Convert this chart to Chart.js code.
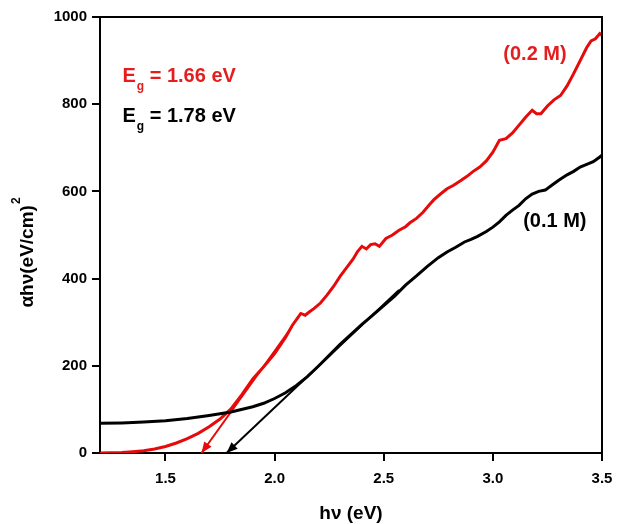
<!DOCTYPE html>
<html>
<head>
<meta charset="utf-8">
<script src="https://cdn.jsdelivr.net/npm/chart.js@4.4.1/dist/chart.umd.min.js"></script>
<style>
  html, body { margin: 0; padding: 0; background: #fff; }
  #wrap { width: 619px; height: 524px; position: relative; }
</style>
</head>
<body>
<div id="wrap"><canvas id="c"></canvas></div>
<script>
// ---- data ----
const xTicks = [1.5, 2.0, 2.5, 3.0, 3.5];
const yTicks = [0, 200, 400, 600, 800, 1000];

const redX = [1.20,1.25,1.30,1.35,1.40,1.45,1.50,1.55,1.60,1.65,1.70,1.75,1.80,1.85,1.90,1.95,2.00,2.05,2.08,2.10,2.12,2.14,2.16,2.18,2.21,2.24,2.27,2.30,2.33,2.36,2.38,2.40,2.42,2.44,2.46,2.48,2.51,2.54,2.57,2.60,2.62,2.65,2.68,2.71,2.73,2.76,2.79,2.82,2.85,2.88,2.91,2.94,2.97,3.00,3.03,3.06,3.09,3.12,3.15,3.18,3.20,3.22,3.25,3.28,3.31,3.34,3.37,3.40,3.43,3.45,3.47,3.49,3.50];
const redY = [0,0.5,1,3,5,9,15,23,33,45,60,78,101,134,170,198,228,265,292,306,320,316,324,331,344,362,382,405,425,445,462,474,468,478,480,474,492,500,511,519,528,538,552,570,581,594,606,614,624,634,646,656,670,690,717,721,734,752,770,786,778,778,796,810,820,842,870,900,930,945,950,962,958];

const blackX = [1.20,1.30,1.40,1.50,1.60,1.70,1.80,1.90,1.95,2.00,2.05,2.10,2.15,2.20,2.25,2.30,2.35,2.40,2.45,2.50,2.55,2.60,2.65,2.70,2.75,2.79,2.83,2.87,2.90,2.93,2.97,3.00,3.03,3.06,3.09,3.12,3.15,3.18,3.21,3.24,3.27,3.30,3.34,3.37,3.40,3.43,3.46,3.49,3.50];
const blackY = [68,69,71,74,79,86,94,106,114,125,138,155,175,199,224,249,272,295,316,338,360,385,406,428,448,461,472,484,490,497,508,518,530,545,557,568,583,594,600,603,614,625,638,646,656,662,668,679,683];

// tangent (extrapolation) lines: [tip, far end]
const redTanX = [1.665, 2.08];
const redTanY = [0, 290];
const blackTanX = [1.78, 2.57];
const blackTanY = [0, 374];

const redLabel = "(0.2 M)";
const blackLabel = "(0.1 M)";
const redGap = "1.66";
const blackGap = "1.78";

const RED = '#e41e1e';
const RED_LINE = '#e60a0a';
const BLACK = '#000000';
const FONT = '"Liberation Sans", Arial, sans-serif';

const pts = (xs, ys) => xs.map((x, i) => ({x: x, y: ys[i]}));

const decor = {
  id: 'decor',
  afterDatasetsDraw(chart) {
    const ctx = chart.ctx;
    const xs = chart.scales.x, ys = chart.scales.y;
    function arrow(xArr, yArr, color) {
      const x0 = xs.getPixelForValue(xArr[0]), y0 = ys.getPixelForValue(yArr[0]);
      const x1 = xs.getPixelForValue(xArr[1]), y1 = ys.getPixelForValue(yArr[1]);
      const ang = Math.atan2(y0 - y1, x0 - x1);
      const L = 11, W = 4.5;
      ctx.save();
      ctx.fillStyle = color;
      ctx.beginPath();
      ctx.moveTo(x0, y0);
      ctx.lineTo(x0 - L * Math.cos(ang) + W * Math.sin(ang), y0 - L * Math.sin(ang) - W * Math.cos(ang));
      ctx.lineTo(x0 - L * Math.cos(ang) - W * Math.sin(ang), y0 - L * Math.sin(ang) + W * Math.cos(ang));
      ctx.closePath();
      ctx.fill();
      ctx.restore();
    }
    arrow(redTanX, redTanY, RED_LINE);
    arrow(blackTanX, blackTanY, BLACK);
  },
  afterDraw(chart) {
    const ctx = chart.ctx;
    const xs = chart.scales.x, ys = chart.scales.y;
    const a = chart.chartArea;
    ctx.save();
    ctx.strokeStyle = '#000';
    ctx.lineWidth = 2;
    ctx.beginPath();
    ctx.moveTo(a.left, a.top);
    ctx.lineTo(a.right, a.top);
    ctx.lineTo(a.right, a.bottom);
    ctx.stroke();

    function eg(val, color, xv, yv) {
      let x = xs.getPixelForValue(xv), y = ys.getPixelForValue(yv);
      ctx.fillStyle = color;
      ctx.textBaseline = 'alphabetic';
      ctx.textAlign = 'left';
      ctx.font = 'bold 20px ' + FONT;
      ctx.fillText('E', x, y);
      x += ctx.measureText('E').width + 1;
      ctx.font = 'bold 12px ' + FONT;
      ctx.fillText('g', x, y + 8);
      x += ctx.measureText('g').width;
      ctx.font = 'bold 20px ' + FONT;
      ctx.fillText(' = ' + val + ' eV', x, y);
    }
    eg(redGap, RED, 1.303, 851);
    eg(blackGap, BLACK, 1.303, 759);

    ctx.font = 'bold 20px ' + FONT;
    ctx.textAlign = 'center';
    ctx.textBaseline = 'middle';
    ctx.fillStyle = RED;
    ctx.fillText(redLabel, xs.getPixelForValue(3.193), ys.getPixelForValue(913));
    ctx.fillStyle = BLACK;
    ctx.fillText(blackLabel, xs.getPixelForValue(3.284), ys.getPixelForValue(532));

    ctx.font = 'bold 19px ' + FONT;
    ctx.textAlign = 'center';
    ctx.textBaseline = 'alphabetic';
    ctx.fillStyle = '#000';
    ctx.fillText('h\u03bd (eV)', (a.left + a.right) / 2, a.bottom + 66);

    ctx.translate(33, 253);
    ctx.rotate(-Math.PI / 2);
    const main = '\u03b1h\u03bd(eV/cm)';
    ctx.font = 'bold 19px ' + FONT;
    const w1 = ctx.measureText(main).width;
    ctx.font = 'bold 12px ' + FONT;
    const w2 = ctx.measureText('2').width;
    let sx = -(w1 + w2) / 2;
    ctx.textAlign = 'left';
    ctx.font = 'bold 19px ' + FONT;
    ctx.fillText(main, sx, 0);
    ctx.font = 'bold 12px ' + FONT;
    ctx.fillText('2', sx + w1 + 1, -13);
    ctx.restore();
  }
};

new Chart(document.getElementById('c'), {
  type: 'line',
  data: {
    datasets: [
      { label: blackLabel, data: pts(blackX, blackY), borderColor: BLACK, borderWidth: 3, pointRadius: 0, tension: 0, fill: false },
      { label: redLabel, data: pts(redX, redY), borderColor: RED_LINE, borderWidth: 3, pointRadius: 0, tension: 0, fill: false },
      { label: 'red tangent', data: pts(redTanX, redTanY), borderColor: RED_LINE, borderWidth: 2, pointRadius: 0, tension: 0, fill: false },
      { label: 'black tangent', data: pts(blackTanX, blackTanY), borderColor: BLACK, borderWidth: 2, pointRadius: 0, tension: 0, fill: false }
    ]
  },
  options: {
    responsive: true,
    maintainAspectRatio: false,
    animation: false,
    layout: { padding: { top: 17, right: 17, left: 0, bottom: 0 } },
    plugins: { legend: { display: false }, tooltip: { enabled: false } },
    scales: {
      x: {
        type: 'linear',
        min: 1.2, max: 3.5,
        afterBuildTicks(s) { s.ticks = xTicks.map(v => ({value: v})); },
        afterFit(s) { s.height = 71; s.paddingLeft = 0; s.paddingRight = 0; },
        grid: { drawOnChartArea: false, drawTicks: true, tickLength: 8, color: '#000', lineWidth: 2 },
        border: { display: true, color: '#000', width: 2 },
        ticks: { color: '#000', font: { family: FONT, size: 15, weight: 'bold' }, padding: 9,
                 callback: v => Number(v).toFixed(1), maxRotation: 0 }
      },
      y: {
        type: 'linear',
        min: 0, max: 1000,
        afterBuildTicks(s) { s.ticks = yTicks.map(v => ({value: v})); },
        afterFit(s) { s.width = 100; s.paddingTop = 0; s.paddingBottom = 0; },
        grid: { drawOnChartArea: false, drawTicks: true, tickLength: 8, color: '#000', lineWidth: 2 },
        border: { display: true, color: '#000', width: 2 },
        ticks: { color: '#000', font: { family: FONT, size: 15, weight: 'bold' }, padding: 5,
                 callback: v => String(v) }
      }
    }
  },
  plugins: [decor]
});
</script>
</body>
</html>
